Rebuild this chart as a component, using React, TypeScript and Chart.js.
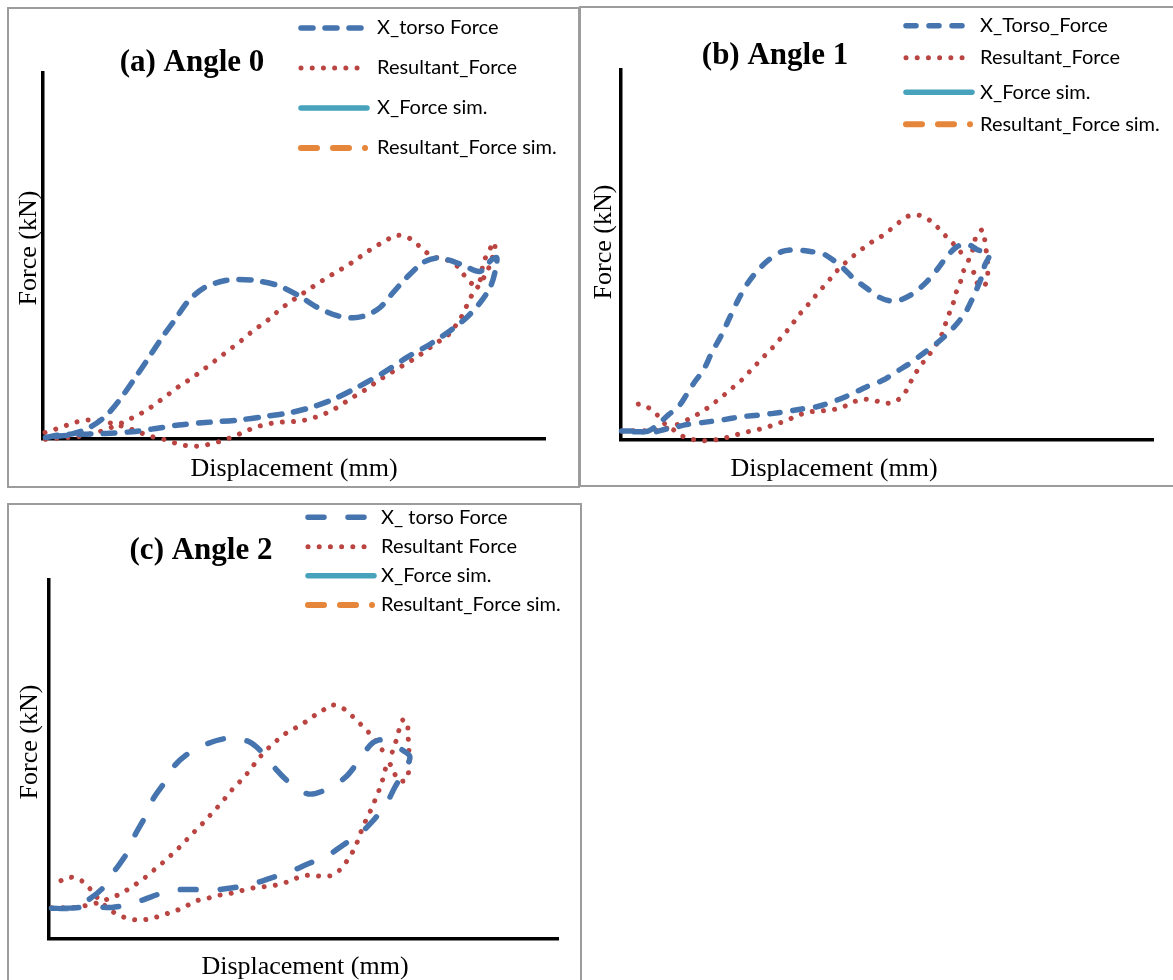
import React, { useEffect, useRef } from 'react';
import { Chart, registerables } from 'chart.js';

Chart.register(...registerables);

// ---------- legend labels ----------
const labelsAngle0 = ['X_torso Force', 'Resultant_Force', 'X_Force sim.', 'Resultant_Force sim.'];
const labelsAngle1 = ['X_Torso_Force', 'Resultant_Force', 'X_Force sim.', 'Resultant_Force sim.'];
const labelsAngle2 = ['X_ torso Force', 'Resultant Force', 'X_Force sim.', 'Resultant_Force sim.'];

// ---------- (a) Angle 0 ----------
const a0TorsoX = [0.5,3.2,5.8,9.1,12.5,15.1,18.4,21.1,23.7,26.4,29.0,32.3,36.3,39.0,42.3,46.9,50.9,54.6,58.6,61.9,64.6,67.2,69.8,72.5,75.8,78.5,81.1,83.8,87.1,89.4,90.4,90.1,89.1,87.1,84.4,81.1,77.1,72.5,67.9,62.6,57.9,53.3,49.3,44.9,39.0,32.3,27.0,21.7,17.8,12.5,7.8,3.2,0.5];
const a0TorsoY = [0.4,1.1,1.4,3.0,6.3,10.4,16.8,22.3,27.7,32.8,37.8,41.5,43.3,43.6,43.3,41.9,39.2,36.0,33.7,33.1,33.9,36.0,40.1,44.2,48.3,49.5,48.8,47.4,45.8,49.0,49.5,46.0,41.5,37.3,33.2,29.6,25.9,22.3,18.2,14.1,10.9,8.6,7.2,6.3,5.2,4.5,3.8,2.7,2.0,1.5,1.3,0.8,0.4];
const a0ResX = [0.5,2.2,4.2,6.5,8.8,11.0,13.1,15.1,17.2,19.4,21.4,23.2,25.0,26.9,28.8,30.7,32.5,34.3,36.2,38.0,39.8,41.6,43.5,45.3,47.1,48.9,50.8,52.6,54.6,56.5,58.4,60.4,62.4,64.2,66.2,68.2,70.2,72.4,74.3,76.0,77.9,80.1,82.2,83.6,85.1,86.1,87.1,87.7,88.7,89.9,90.0,89.3,88.5,87.1,85.4,84.4,83.4,82.2,80.8,78.9,77.0,75.1,73.2,71.2,69.3,67.3,65.4,63.6,61.6,59.6,57.7,55.6,53.4,51.2,48.8,46.6,44.4,42.1,40.0,37.8,35.6,33.5,31.4,29.0,26.8,24.6,22.4,20.3,18.1,16.0,13.7,11.5,9.1,6.8,4.8,2.5,0.2];
const a0ResY = [-0.1,0.1,0.4,0.5,1.2,1.9,2.9,4.0,5.4,6.9,8.6,10.4,12.2,14.2,15.9,17.7,19.5,21.4,23.4,25.3,27.2,29.3,31.2,33.0,35.3,37.1,38.9,40.5,42.4,44.0,45.6,47.2,49.0,50.8,52.6,54.1,55.6,55.3,53.5,51.4,49.7,49.1,47.6,45.3,42.8,42.2,43.5,48.1,51.0,53.8,51.7,48.8,45.8,42.5,39.2,36.4,33.5,31.0,28.5,26.7,24.9,23.0,21.3,19.7,18.1,16.4,14.6,12.9,11.3,9.5,7.9,6.6,5.6,4.9,4.7,4.5,4.0,3.1,1.9,0.6,-0.5,-1.3,-1.9,-1.9,-1.3,-0.3,0.4,1.3,2.4,3.4,4.3,4.9,5.2,4.7,3.8,2.7,1.7];

// ---------- (b) Angle 1 ----------
const b1TorsoX = [0.1,2.6,5.1,7.0,8.9,10.8,12.3,13.9,15.5,17.0,18.9,20.5,22.0,23.6,25.5,27.7,30.2,32.7,35.8,38.0,39.9,41.8,43.7,46.2,48.4,50.6,52.4,54.9,57.5,59.6,61.2,63.1,65.0,66.9,68.7,69.2,68.4,67.8,66.5,65.0,63.7,61.8,59.3,56.8,54.3,51.8,49.3,46.2,43.0,39.9,36.8,34.0,30.2,26.4,22.7,18.9,15.2,12.0,9.8,8.3,6.4,3.6,0.1];
const b1TorsoY = [2.4,2.4,2.4,4.3,6.8,9.0,12.2,15.8,18.9,23.4,28.4,33.3,37.8,41.9,45.5,48.6,50.9,51.4,50.9,50.3,48.6,46.4,43.7,41.0,38.7,37.6,37.8,39.6,42.8,46.4,49.5,52.2,53.0,51.5,50.5,49.7,47.3,44.1,39.6,35.1,32.4,29.3,26.1,23.4,20.7,18.5,16.2,14.4,12.2,10.4,9.0,8.4,7.5,6.8,6.3,5.4,4.7,4.1,3.2,2.9,2.2,2.2,2.3];
const b1ResX = [0.2,2.3,4.5,6.7,8.7,10.8,12.8,14.7,16.4,18.2,19.9,21.6,23.2,24.6,26.1,27.6,29.1,30.5,31.9,33.1,34.6,36.0,37.4,38.9,40.2,41.7,43.4,45.1,46.8,48.7,50.4,52.1,53.8,55.9,57.9,59.5,61.0,62.5,63.9,65.4,66.2,66.7,67.9,68.4,68.7,68.9,68.9,68.2,66.9,66.2,64.5,63.9,63.1,62.5,61.7,61.0,60.3,59.2,58.0,56.6,55.4,54.3,53.3,51.7,49.7,47.6,45.4,43.4,41.4,39.3,37.2,35.0,33.0,31.0,28.9,26.9,24.7,22.6,20.5,18.4,16.3,14.1,12.0,10.3,8.6,7.0,5.3,3.4,1.4];
const b1ResY = [2.4,2.5,2.5,2.7,3.2,4.3,5.7,7.2,8.8,10.8,12.8,14.9,16.9,19.2,21.4,23.7,25.9,28.4,30.6,33.2,35.6,38.0,40.4,42.8,45.1,47.3,49.4,51.4,53.2,54.8,56.6,58.6,60.4,60.8,59.5,57.5,55.2,53.0,50.7,48.6,51.8,54.8,56.8,53.9,50.6,47.8,44.5,41.4,42.5,45.5,45.9,43.1,40.3,37.2,34.2,31.4,28.5,25.7,23.2,20.6,18.1,15.3,12.6,10.5,9.9,10.7,11.0,10.1,8.7,8.1,7.8,7.5,6.5,5.2,4.2,3.2,2.5,1.8,0.9,0.2,-0.2,0.0,0.7,2.4,3.8,6.5,8.6,9.7,8.8];

// ---------- (c) Angle 2 ----------
const c2TorsoX = [0.5,4.1,7.7,10.7,13.0,15.3,16.9,18.9,20.5,22.8,24.8,27.7,31.3,35.1,39.2,42.1,44.7,47.3,50.9,54.6,58.2,60.5,63.1,64.7,66.3,69.9,70.9,70.3,68.0,66.3,63.7,61.1,57.8,54.6,50.8,47.3,43.4,39.7,35.8,31.8,27.8,23.8,20.2,16.4,12.3,8.4,4.1,0.5];
const c2TorsoY = [8.6,8.6,10.9,14.4,19.2,23.9,29.0,34.1,39.1,43.8,48.5,52.0,54.5,55.9,55.0,51.7,47.1,43.5,40.4,41.7,45.0,48.9,54.0,55.4,55.2,52.2,50.8,48.0,42.4,37.8,33.0,29.4,26.2,23.1,20.9,18.7,16.9,15.2,14.2,13.6,13.8,13.5,11.8,9.9,8.8,9.0,8.6,8.6];
const c2ResX = [0.5,2.6,4.9,7.2,9.6,11.5,13.6,15.6,17.5,19.3,21.0,22.7,24.4,26.1,27.6,29.2,30.8,32.3,33.8,35.2,36.7,38.3,39.7,41.1,42.6,44.3,46.0,47.9,49.9,51.7,53.7,55.6,57.7,59.5,61.1,62.7,64.2,65.5,67.3,68.1,68.7,69.5,70.4,70.5,70.7,70.7,70.7,70.2,68.6,67.6,66.6,65.8,65.2,64.3,63.5,62.5,61.6,60.8,59.9,58.7,57.4,55.5,53.3,51.1,48.9,46.8,44.6,42.4,40.1,37.9,35.7,33.5,31.3,29.1,27.1,25.0,22.8,20.6,18.4,16.2,14.1,12.0,10.4,8.9,7.4,5.6,3.5,1.5];
const c2ResY = [8.7,8.7,8.8,9.3,10.1,11.1,12.3,13.9,15.7,17.6,19.7,21.7,23.9,26.2,28.5,30.8,33.1,35.5,37.8,40.3,42.7,45.0,47.5,50.1,52.5,54.7,56.8,58.4,60.0,61.8,63.6,65.2,64.3,62.2,60.0,57.7,55.3,52.6,51.9,54.8,57.9,61.0,60.3,57.0,53.8,50.6,47.4,44.3,44.2,47.1,49.3,45.7,42.7,39.6,36.7,33.8,31.0,27.9,24.9,22.1,19.6,17.7,17.5,17.8,17.1,15.9,15.0,14.6,14.2,13.5,12.7,12.2,11.4,10.7,9.3,7.9,6.9,5.9,5.3,5.5,6.4,8.1,10.1,12.5,15.0,16.9,17.1,15.5];

// ---------- styles ----------
const BLUE = '#4574AF';
const RED = '#B94441';
const TEAL = '#46A3BB';
const ORANGE = '#E5863A';
const SERIF = '"Liberation Serif", "Times New Roman", serif';
const SANS = 'Lato, "Open Sans", sans-serif';

const toPoints = (xs: number[], ys: number[]) => xs.map((x, i) => ({ x, y: ys[i] }));

type PanelCfg = {
  box: { L: number; T: number; W: number; H: number };
  plot: { left: number; top: number; right: number; bottom: number };
  title: { text: string; x: number; y: number };
  yTitle: { x: number; y: number };
  xTitle: { x: number; y: number };
  legend: { x0: number; x1: number; textX: number; rows: number[] };
  labels: string[];
  torso: { x: number; y: number }[];
  res: { x: number; y: number }[];
  torsoDash: number[];
};

const panels: PanelCfg[] = [
  {
    box: { L: 7, T: 7, W: 573, H: 481 },
    plot: { left: 43, top: 73, right: 545, bottom: 439 },
    title: { text: '(a) Angle 0', x: 192, y: 63 },
    yTitle: { x: 29, y: 248 },
    xTitle: { x: 294, y: 469 },
    legend: { x0: 301, x1: 367, textX: 377, rows: [28, 68, 108, 148] },
    labels: labelsAngle0,
    torso: toPoints(a0TorsoX, a0TorsoY),
    res: toPoints(a0ResX, a0ResY),
    torsoDash: [12, 12],
  },
  {
    box: { L: 579, T: 6, W: 600, H: 481 },
    plot: { left: 621, top: 70, right: 1153, bottom: 440 },
    title: { text: '(b) Angle 1', x: 775, y: 56 },
    yTitle: { x: 604, y: 242 },
    xTitle: { x: 834, y: 469 },
    legend: { x0: 906, x1: 972, textX: 980, rows: [25.7, 57.7, 92.3, 124.3] },
    labels: labelsAngle1,
    torso: toPoints(b1TorsoX, b1TorsoY),
    res: toPoints(b1ResX, b1ResY),
    torsoDash: [10, 13],
  },
  {
    box: { L: 7, T: 503, W: 575, H: 480 },
    plot: { left: 49, top: 580, right: 558, bottom: 939 },
    title: { text: '(c) Angle 2', x: 201, y: 551 },
    yTitle: { x: 30, y: 742 },
    xTitle: { x: 305, y: 967 },
    legend: { x0: 308, x1: 374, textX: 381, rows: [517.3, 546.7, 575.7, 605] },
    labels: labelsAngle2,
    torso: toPoints(c2TorsoX, c2TorsoY),
    res: toPoints(c2ResX, c2ResY),
    torsoDash: [16, 24],
  },
];

function makeDecor(cfg: PanelCfg) {
  return {
    id: 'decor',
    afterDraw(chart: any) {
      const ctx = chart.ctx as CanvasRenderingContext2D;
      const { L, T } = cfg.box;
      ctx.save();
      ctx.fillStyle = '#000';
      ctx.textAlign = 'center';
      ctx.textBaseline = 'middle';
      ctx.font = `bold 31px ${SERIF}`;
      ctx.fillText(cfg.title.text, cfg.title.x - L, cfg.title.y - T);
      ctx.font = `26px ${SERIF}`;
      ctx.fillText('Displacement (mm)', cfg.xTitle.x - L, cfg.xTitle.y - T);
      ctx.save();
      ctx.translate(cfg.yTitle.x - L, cfg.yTitle.y - T);
      ctx.rotate(-Math.PI / 2);
      ctx.fillText('Force (kN)', 0, 0);
      ctx.restore();

      // legend drawn from the datasets' own styles
      chart.data.datasets.forEach((ds: any, i: number) => {
        const y = cfg.legend.rows[i] - T;
        ctx.save();
        ctx.strokeStyle = ds.borderColor;
        ctx.lineWidth = ds.borderWidth;
        ctx.lineCap = 'round';
        ctx.setLineDash(ds.borderDash || []);
        ctx.beginPath();
        ctx.moveTo(cfg.legend.x0 - L, y);
        ctx.lineTo(cfg.legend.x1 - L, y);
        ctx.stroke();
        ctx.restore();
        ctx.fillStyle = '#000';
        ctx.font = `20px ${SANS}`;
        ctx.textAlign = 'left';
        ctx.textBaseline = 'middle';
        ctx.fillText(ds.label, cfg.legend.textX - L, y);
      });
      ctx.restore();
    },
  };
}

function Panel({ cfg }: { cfg: PanelCfg }) {
  const ref = useRef<HTMLCanvasElement>(null);
  useEffect(() => {
    const { L, T, W, H } = cfg.box;
    const p = cfg.plot;
    const chart = new Chart(ref.current as HTMLCanvasElement, {
      type: 'scatter',
      data: {
        datasets: [
          {
            label: cfg.labels[0],
            data: cfg.torso,
            showLine: true,
            borderColor: BLUE,
            backgroundColor: BLUE,
            borderWidth: 5.5,
            borderDash: cfg.torsoDash,
            borderCapStyle: 'round',
            pointRadius: 0,
            tension: 0.3,
            clip: false,
          } as any,
          {
            label: cfg.labels[1],
            data: cfg.res,
            showLine: true,
            borderColor: RED,
            backgroundColor: RED,
            borderWidth: 5,
            borderDash: [0.01, 11.2],
            borderCapStyle: 'round',
            pointRadius: 0,
            tension: 0.3,
            clip: false,
          } as any,
          {
            label: cfg.labels[2],
            data: [],
            showLine: true,
            borderColor: TEAL,
            backgroundColor: TEAL,
            borderWidth: 5.5,
            borderDash: [],
            pointRadius: 0,
          } as any,
          {
            label: cfg.labels[3],
            data: [],
            showLine: true,
            borderColor: ORANGE,
            backgroundColor: ORANGE,
            borderWidth: 6,
            borderDash: [16, 16, 16, 16, 0.01, 100],
            pointRadius: 0,
          } as any,
        ],
      },
      options: {
        responsive: false,
        maintainAspectRatio: false,
        animation: false,
        events: [],
        layout: {
          padding: {
            left: p.left - L,
            top: p.top - T,
            right: L + W - p.right,
            bottom: T + H - p.bottom,
          },
        },
        plugins: {
          legend: { display: false },
          tooltip: { enabled: false },
          title: { display: false },
        },
        scales: {
          x: {
            type: 'linear',
            min: 0,
            max: 100,
            grid: { display: false, drawTicks: false, tickLength: 0 },
            ticks: { display: false },
            border: { display: true, color: '#000', width: 3.5 },
            title: { display: false },
            afterFit: (s: any) => {
              s.height = 0;
            },
          },
          y: {
            type: 'linear',
            min: 0,
            max: 100,
            grid: { display: false, drawTicks: false, tickLength: 0 },
            ticks: { display: false },
            border: { display: true, color: '#000', width: 3.5 },
            title: { display: false },
            afterFit: (s: any) => {
              s.width = 0;
            },
          },
        },
      } as any,
      plugins: [makeDecor(cfg)],
    });
    return () => chart.destroy();
  }, [cfg]);

  const { L, T, W, H } = cfg.box;
  return (
    <>
      <canvas
        ref={ref}
        width={W}
        height={H}
        style={{ position: 'absolute', left: L, top: T, width: W, height: H }}
      />
      <div
        style={{
          position: 'absolute',
          left: L,
          top: T,
          width: W,
          height: H,
          border: '2px solid #9c9c9c',
          boxSizing: 'border-box',
          pointerEvents: 'none',
        }}
      />
    </>
  );
}

export default function App() {
  return (
    <div
      style={{
        position: 'absolute',
        left: 0,
        top: 0,
        width: 1173,
        height: 980,
        overflow: 'hidden',
        background: '#fff',
      }}
    >
      {panels.map((cfg, i) => (
        <Panel key={i} cfg={cfg} />
      ))}
    </div>
  );
}
